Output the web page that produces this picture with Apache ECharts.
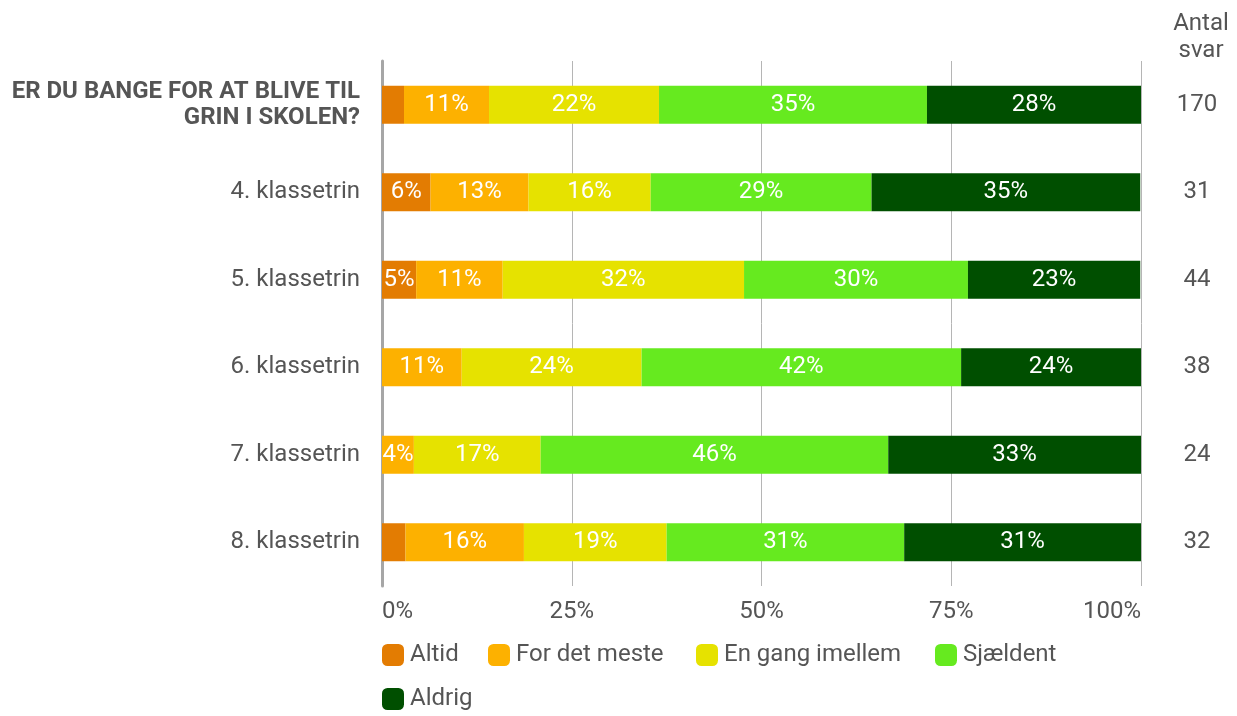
<!DOCTYPE html>
<html><head><meta charset="utf-8">
<script src="https://cdn.jsdelivr.net/npm/echarts@6/dist/echarts.min.js"></script>
<style>html,body{margin:0;padding:0;background:#fff}#c{width:1237px;height:716px}</style>
</head><body><div id="c"></div>
<script>
const categories = ["ER DU BANGE FOR AT BLIVE TIL\nGRIN I SKOLEN?", "4. klassetrin", "5. klassetrin", "6. klassetrin", "7. klassetrin", "8. klassetrin"];
const antalSvar = ["170", "31", "44", "38", "24", "32"];
const seriesNames = ["Altid", "For det meste", "En gang imellem", "Sjældent", "Aldrig"];
const altid = [2.9, 6.4, 4.5, 0, 0, 3.1];
const forDetMeste = [11.2, 12.9, 11.4, 10.5, 4.2, 15.6];
const enGang = [22.4, 16.1, 31.8, 23.7, 16.7, 18.8];
const sjaeldent = [35.3, 29.1, 29.5, 42.1, 45.8, 31.3];
const aldrig = [28.2, 35.4, 22.7, 23.7, 33.3, 31.3];
const xTicks = [0, 25, 50, 75, 100];
const colors = ["#e37c02", "#fdb100", "#e6e200", "#66ea1f", "#004f00"];
const legendTextWidths = [58, 160, 191, 100, 80];

const chart = echarts.init(document.getElementById('c'));
const font = 'Roboto';
const fs = 24;
const mk = (name, data, i) => ({
  name, type: 'bar', stack: 'all', data, barWidth: 38,
  itemStyle: { color: colors[i] },
  label: {
    show: true, position: 'inside', color: '#fff', fontFamily: font, fontSize: fs,
    formatter: p => p.value >= 3.5 ? Math.round(p.value) + '%' : ''
  }
});
chart.setOption({
  animation: false,
  textStyle: { fontFamily: font },
  title: {
    text: 'Antal\nsvar', left: 1196, top: 5, textAlign: 'center',
    textStyle: { fontFamily: font, fontSize: fs, fontWeight: 'normal', color: '#555', lineHeight: 27, align: 'center' }
  },
  legend: {
    left: 382, top: 643, width: 720, padding: 0, itemWidth: 22, itemHeight: 22, itemGap: 20,
    icon: 'roundRect', align: 'left',
    textStyle: { fontFamily: font, fontSize: fs, lineHeight: 24, color: '#555', padding: [0, 0, 0, 1] },
    data: seriesNames.map((n, i) => ({ name: n, textStyle: { width: legendTextWidths[i] } }))
  },
  grid: { left: 382, right: 96, top: 61, bottom: 130 },
  xAxis: {
    type: 'value', min: 0, max: 100, interval: 25,
    axisLine: { show: false }, axisTick: { show: false },
    splitLine: { lineStyle: { color: '#b5b5b5', width: 1 } },
    axisLabel: {
      fontFamily: font, fontSize: fs, color: '#555', margin: 14,
      alignMinLabel: 'left', alignMaxLabel: 'right',
      formatter: v => xTicks.includes(v) ? v + '%' : ''
    }
  },
  yAxis: [{
    type: 'category', data: categories, inverse: true,
    axisLine: { show: true, lineStyle: { color: '#a6a6a6', width: 3 } },
    axisTick: { show: false },
    axisLabel: {
      fontFamily: font, fontSize: fs, color: '#555', margin: 22, align: 'right',
      formatter: (v, i) => i === 0 ? '{b|' + v.split('\n').join('}\n{b|') + '}' : v,
      rich: { b: { fontFamily: font, fontSize: fs, fontWeight: 'bold', color: '#555', lineHeight: 26, align: 'right' } }
    }
  }, {
    type: 'category', data: antalSvar, inverse: true, position: 'right',
    axisLine: { show: false }, axisTick: { show: false },
    axisLabel: { fontFamily: font, fontSize: fs, color: '#555', margin: 56, align: 'center' }
  }],
  series: [
    mk(seriesNames[0], altid, 0),
    mk(seriesNames[1], forDetMeste, 1),
    mk(seriesNames[2], enGang, 2),
    mk(seriesNames[3], sjaeldent, 3),
    mk(seriesNames[4], aldrig, 4)
  ]
});
</script></body></html>
